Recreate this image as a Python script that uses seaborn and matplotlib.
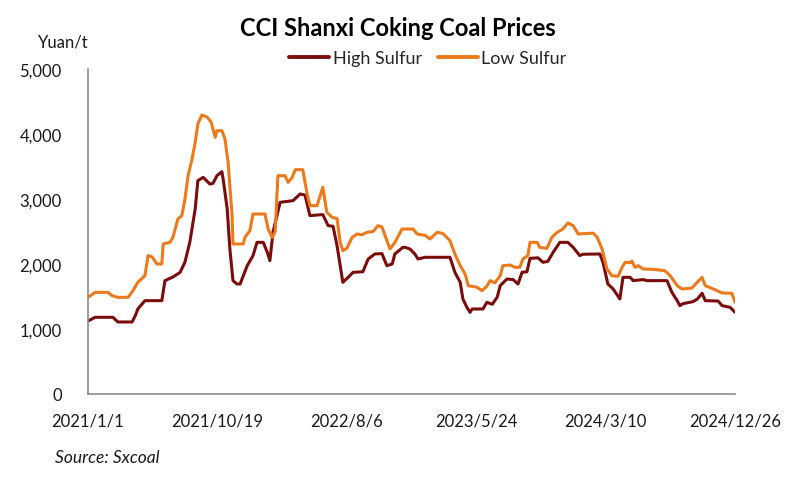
import pandas as pd
import matplotlib.pyplot as plt
import matplotlib.ticker as mticker
import seaborn as sns

start = pd.Timestamp("2021-01-01")

# days since 2021/1/1 and prices (yuan/t)
high_days = [0, 16, 56, 67, 99, 106, 112, 128, 166, 173, 191, 207, 218, 229, 241,
             247, 259, 274, 281, 290, 301, 304, 313, 319, 326, 335, 342, 358, 371,
             380, 394, 403, 409, 416, 432, 461, 477, 488, 499, 528, 540, 551, 560,
             573, 585, 596, 618, 630, 645, 661, 672, 684, 690, 708, 713, 724, 735,
             742, 758, 814, 825, 837, 843, 852, 859, 864, 888, 897, 909, 920, 927,
             942, 956, 967, 976, 987, 994, 1012, 1023, 1034, 1046, 1061, 1079, 1091,
             1106, 1113, 1151, 1158, 1169, 1181, 1196, 1203, 1219, 1226, 1248, 1257,
             1302, 1313, 1325, 1331, 1338, 1360, 1370, 1381, 1388, 1417, 1426, 1444,
             1455]
high_sulfur = [1123, 1180, 1180, 1108, 1108, 1200, 1308, 1436, 1436, 1744, 1800, 1870,
               2030, 2338, 2846, 3282, 3333, 3230, 3240, 3359, 3420, 3300, 2846, 2230,
               1744, 1692, 1692, 1974, 2128, 2333, 2333, 2184, 2051, 2490, 2949, 2974,
               3077, 3060, 2744, 2760, 2590, 2580, 2282, 1718, 1795, 1872, 1880, 2077,
               2154, 2160, 1974, 2000, 2154, 2256, 2256, 2230, 2154, 2077, 2103, 2103,
               1872, 1718, 1462, 1333, 1256, 1308, 1308, 1410, 1380, 1487, 1667, 1769,
               1760, 1692, 1872, 1880, 2087, 2095, 2026, 2040, 2180, 2333, 2333, 2256,
               2128, 2150, 2154, 2026, 1692, 1615, 1462, 1795, 1795, 1744, 1760, 1744,
               1744, 1564, 1436, 1359, 1390, 1420, 1460, 1549, 1436, 1430, 1359, 1333,
               1256]

low_days = [0, 16, 45, 54, 67, 90, 101, 112, 128, 135, 144, 155, 166, 169, 184, 191,
            202, 211, 218, 225, 234, 241, 247, 256, 268, 277, 286, 290, 301, 308, 315,
            324, 326, 349, 353, 364, 371, 398, 405, 414, 421, 427, 443, 450, 459, 466,
            483, 492, 499, 515, 522, 528, 537, 549, 560, 567, 573, 582, 594, 605, 616,
            627, 641, 652, 661, 672, 679, 690, 706, 731, 740, 758, 769, 785, 798, 814,
            825, 837, 848, 855, 875, 886, 897, 904, 915, 927, 933, 949, 960, 971, 978,
            989, 994, 1010, 1016, 1032, 1043, 1055, 1068, 1079, 1091, 1102, 1136, 1145,
            1156, 1167, 1178, 1192, 1201, 1208, 1219, 1223, 1230, 1237, 1248, 1271,
            1297, 1309, 1325, 1336, 1358, 1370, 1381, 1388, 1410, 1426, 1448, 1455]
low_sulfur = [1487, 1564, 1564, 1513, 1487, 1487, 1590, 1718, 1821, 2128, 2110, 2000,
              2000, 2308, 2333, 2410, 2692, 2744, 3000, 3359, 3615, 3872, 4154, 4292,
              4260, 4180, 3949, 4051, 4051, 3923, 3564, 2744, 2308, 2308, 2410, 2513,
              2769, 2769, 2538, 2410, 2500, 3359, 3359, 3256, 3330, 3451, 3451, 3103,
              2897, 2897, 3051, 3179, 2795, 2718, 2700, 2333, 2205, 2240, 2410, 2462,
              2450, 2487, 2500, 2590, 2570, 2359, 2231, 2330, 2538, 2538, 2462, 2440,
              2385, 2487, 2470, 2359, 2154, 1974, 1846, 1667, 1641, 1590, 1660, 1744,
              1710, 1821, 1974, 1985, 1949, 1949, 2077, 2130, 2333, 2333, 2256, 2240,
              2410, 2487, 2538, 2631, 2590, 2462, 2475, 2410, 2231, 1923, 1821, 1810,
              1949, 2026, 2020, 2045, 1949, 1975, 1923, 1918, 1897, 1821, 1667, 1615,
              1630, 1718, 1795, 1667, 1605, 1554, 1550, 1410]

x_tick_labels = ["2021/1/1", "2021/10/19", "2022/8/6", "2023/5/24", "2024/3/10", "2024/12/26"]
y_ticks = [0, 1000, 2000, 3000, 4000, 5000]

df = pd.concat([
    pd.DataFrame({"date": start + pd.to_timedelta(high_days, unit="D"),
                  "price": high_sulfur, "series": "High Sulfur"}),
    pd.DataFrame({"date": start + pd.to_timedelta(low_days, unit="D"),
                  "price": low_sulfur, "series": "Low Sulfur"}),
])

sns.set_style("white")
plt.rcParams["font.family"] = ["Lato", "DejaVu Sans"]

fig = plt.figure(figsize=(7.98, 4.81), dpi=100)
ax = fig.add_axes([0.1103, 0.1788, 0.8108, 0.6757])

sns.lineplot(data=df, x="date", y="price", hue="series", estimator=None, sort=False,
             palette={"High Sulfur": "#7b0c0c", "Low Sulfur": "#ec7a1c"},
             linewidth=2.2, legend=False, ax=ax)

tick_dates = pd.to_datetime(x_tick_labels, format="%Y/%m/%d")
ax.set_xlim(tick_dates[0], tick_dates[-1])
ax.set_xticks(tick_dates)
ax.set_xticklabels(x_tick_labels)
ax.set_ylim(0, 5000)
ax.set_yticks(y_ticks)
ax.yaxis.set_major_formatter(mticker.StrMethodFormatter("{x:,.0f}"))
ax.set_xlabel("")
ax.set_ylabel("")

for side in ["top", "right"]:
    ax.spines[side].set_visible(False)
for side in ["left", "bottom"]:
    ax.spines[side].set_color("#8c8c8c")
    ax.spines[side].set_linewidth(1.2)
ax.tick_params(axis="both", which="major", direction="out", length=5, width=1.2,
               color="#8c8c8c", labelsize=12, labelcolor="#1a1a1a")
ax.tick_params(axis="x", pad=8)
ax.tick_params(axis="y", pad=14)

fig.text(398 / 798, 1 - 28 / 481, "CCI Shanxi Coking Coal Prices", ha="center", va="center",
         fontsize=17, fontweight="bold", color="black")
fig.text(63 / 798, 1 - 42 / 481, "Yuan/t", ha="center", va="center", fontsize=12,
         color="#1a1a1a")
fig.text(55 / 798, 1 - 458 / 481, "Source: Sxcoal", ha="left", va="center", fontsize=12.5,
         style="italic", color="#1a1a1a")

handles = [plt.Line2D([], [], color="#7b0c0c", lw=2.8),
           plt.Line2D([], [], color="#ec7a1c", lw=2.8)]
fig.legend(handles, ["High Sulfur", "Low Sulfur"], loc="center",
           bbox_to_anchor=(428 / 798, 1 - 59 / 481), ncol=2, frameon=False,
           fontsize=13, handlelength=2.2, handletextpad=0.2, columnspacing=0.9)

fig.savefig("out.png", dpi=100)
